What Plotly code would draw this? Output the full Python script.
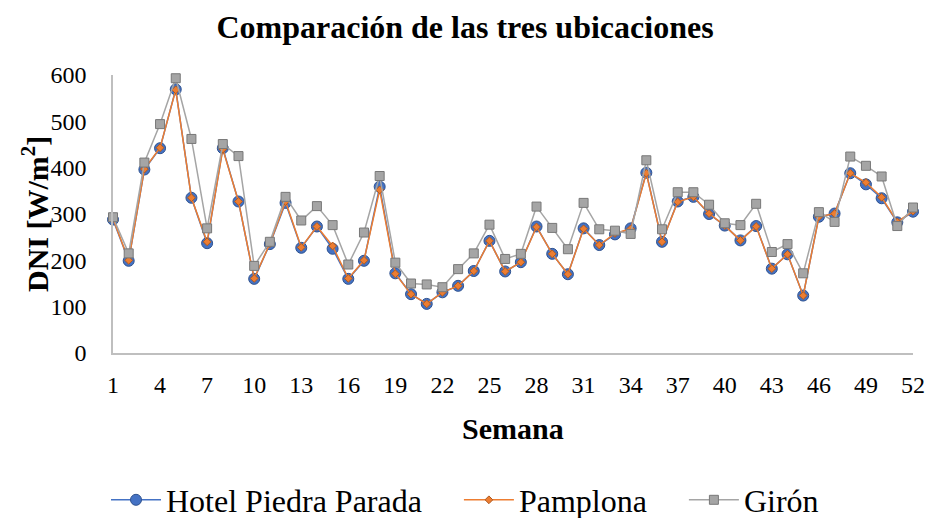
import plotly.graph_objects as go

weeks = list(range(1, 53))
x_ticks = list(range(1, 53, 3))
y_ticks = [0, 100, 200, 300, 400, 500, 600]
series_names = ["Hotel Piedra Parada", "Pamplona", "Girón"]

hotel_piedra_parada = [288, 199, 396, 442, 569, 335, 237, 442, 327, 160,
                       235, 324, 227, 273, 225, 160, 199, 359, 172, 127,
                       106, 131, 145, 177, 242, 176, 196, 273, 214, 170,
                       269, 233, 256, 269, 389, 240, 327, 337, 300, 275,
                       243, 274, 182, 213, 124, 294, 301, 388, 364, 334,
                       282, 305]
pamplona = [290, 200, 397, 443, 568, 335, 240, 440, 327, 161,
            236, 327, 228, 273, 231, 161, 200, 352, 171, 127,
            106, 131, 145, 177, 242, 176, 196, 272, 214, 170,
            268, 233, 258, 268, 388, 240, 326, 337, 301, 275,
            243, 273, 182, 213, 124, 294, 301, 388, 368, 336,
            283, 306]
giron = [293, 215, 411, 494, 593, 462, 269, 451, 425, 188,
         240, 337, 286, 317, 276, 191, 260, 382, 195, 150,
         148, 142, 181, 215, 277, 203, 214, 316, 270, 224,
         324, 267, 264, 257, 416, 267, 347, 347, 320, 280,
         276, 322, 218, 235, 172, 304, 283, 424, 404, 381,
         274, 314]

FONT = "Liberation Serif, Times New Roman, serif"
PAD = "\u00a0\u00a0\u00a0\u00a0"

fig = go.Figure()
fig.add_trace(go.Scatter(
    x=weeks, y=hotel_piedra_parada, name=series_names[0] + PAD, mode="lines+markers",
    line=dict(color="#4472C4", width=1.5),
    marker=dict(symbol="circle", size=11, color="#4472C4", line=dict(color="#2F528F", width=1)),
    cliponaxis=False))
fig.add_trace(go.Scatter(
    x=weeks, y=pamplona, name=series_names[1] + PAD, mode="lines+markers",
    line=dict(color="#ED7D31", width=1.5),
    marker=dict(symbol="diamond", size=6, color="#ED7D31", line=dict(color="#AE5A21", width=1)),
    cliponaxis=False))
fig.add_trace(go.Scatter(
    x=weeks, y=giron, name=series_names[2], mode="lines+markers",
    line=dict(color="#A5A5A5", width=1.5),
    marker=dict(symbol="square", size=9, color="#A5A5A5", line=dict(color="#787878", width=1)),
    cliponaxis=False))

fig.update_layout(
    width=930, height=518,
    margin=dict(l=113, r=17, t=75, b=165, autoexpand=False),
    paper_bgcolor="white", plot_bgcolor="white",
    font=dict(family=FONT, color="black", size=24),
    title=dict(text="<b>Comparación de las tres ubicaciones</b>", x=0.5, xanchor="center",
               y=1 - 27 / 518, yanchor="middle", font=dict(family=FONT, size=32, color="black")),
    xaxis=dict(range=[1, 52], tickvals=x_ticks, ticktext=[str(v) for v in x_ticks],
               showgrid=False, zeroline=False, showline=True, linecolor="#BFBFBF", linewidth=1.5,
               ticks="", ticklabelstandoff=9, automargin=False,
               tickfont=dict(family=FONT, size=24, color="black")),
    yaxis=dict(range=[0, 600], tickvals=y_ticks, showgrid=False, zeroline=False,
               showline=True, linecolor="#BFBFBF", linewidth=1.5, ticks="", automargin=False,
               ticklabelstandoff=20, tickfont=dict(family=FONT, size=24, color="black")),
    showlegend=True,
    legend=dict(orientation="h", xref="container", yref="container", x=0.5, xanchor="center",
                y=18 / 518, yanchor="middle", font=dict(family=FONT, size=32, color="black"),
                itemwidth=50, traceorder="normal", bgcolor="rgba(0,0,0,0)"),
    annotations=[
        dict(text="<b>Semana</b>", xref="paper", yref="paper", x=0.5, y=-75 / 278,
             xanchor="center", yanchor="middle", showarrow=False,
             font=dict(family=FONT, size=30, color="black")),
        dict(text="<b>DNI [W/m<sup>2</sup>]</b>", xref="paper", yref="paper", x=-78 / 800, y=0.5,
             xanchor="center", yanchor="middle", textangle=-90, showarrow=False,
             font=dict(family=FONT, size=30, color="black")),
    ],
)

fig.write_html("out.html", config={"displayModeBar": False},
               post_script="document.body.style.margin='0px';document.body.style.overflow='hidden';")
